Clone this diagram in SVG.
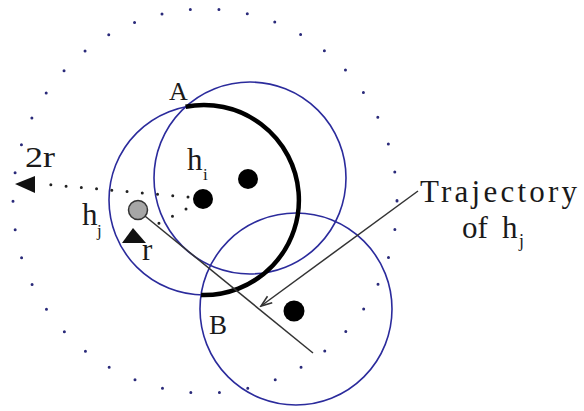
<svg xmlns="http://www.w3.org/2000/svg" width="584" height="411" viewBox="0 0 584 411">
<style>
.t{font-family:"Liberation Serif","Times New Roman",serif;fill:#1a1a1a}
.range{fill:none;stroke:#2b2b9c;stroke-width:1.6}
.dot{fill:#000}
.dotted{fill:none;stroke:#222;stroke-width:3;stroke-linecap:round;stroke-dasharray:0 15.3}
</style>
<defs>
<marker id="open" markerWidth="14" markerHeight="12" refX="12" refY="5" orient="auto" markerUnits="userSpaceOnUse">
<path d="M1,1 L12,5 L1,9" fill="none" stroke="#333" stroke-width="1.6"/>
</marker>
</defs>
<rect width="584" height="411" fill="#fff"/>

<g id="range-2r">
<circle cx="205" cy="201" r="192" fill="none" stroke="#2a2a7a" stroke-width="3" stroke-linecap="round" stroke-dasharray="0 28.7"/>
</g>

<g id="circle-hi">
<circle class="range" cx="204" cy="200" r="95"/>
</g>
<g id="circle-2">
<circle class="range" cx="250" cy="178" r="96"/>
</g>
<g id="circle-3">
<circle class="range" cx="296" cy="309" r="96"/>
</g>

<g id="connectors">
<path id="arc-AB" d="M185.6,106.8 A95,95 0 1 1 201.05,294.98" fill="none" stroke="#000" stroke-width="4.5"/>
<line x1="140" y1="212" x2="313" y2="353" stroke="#333" stroke-width="1.5"/>
<line x1="418" y1="191" x2="261" y2="306" stroke="#333" stroke-width="1.5" marker-end="url(#open)"/>
<line class="dotted" x1="188" y1="197" x2="42" y2="184"/>
<polygon points="15,184 35,176 35,193" fill="#111"/>
<line class="dotted" x1="186" y1="209" x2="150" y2="228"/>
<polygon points="133,228 122,243 146,243" fill="#111"/>
</g>

<g id="node-hi">
<circle class="dot" cx="203" cy="199" r="10"/>
<text class="t" x="187" y="170" font-size="31">h</text>
<text class="t" x="203" y="180" font-size="17">i</text>
</g>
<g id="node-2">
<circle class="dot" cx="248" cy="179" r="10"/>
</g>
<g id="node-3">
<circle class="dot" cx="294" cy="311" r="10.5"/>
</g>
<g id="node-hj">
<circle cx="138" cy="210" r="9.5" fill="#a6a6a6" stroke="#333" stroke-width="1.5"/>
<text class="t" x="82" y="225" font-size="31">h</text>
<text class="t" x="97" y="236" font-size="17">j</text>
</g>

<g id="labels">
<text class="t" x="169" y="100" font-size="26">A</text>
<text class="t" x="209" y="334" font-size="27">B</text>
<text class="t" x="25" y="167" font-size="30" textLength="30" lengthAdjust="spacingAndGlyphs">2r</text>
<text class="t" x="142" y="260" font-size="31">r</text>
<text class="t" x="420" y="202" font-size="31" textLength="157" lengthAdjust="spacing">Trajectory</text>
<text class="t" x="462" y="238" font-size="31">of <tspan x="502">h</tspan></text>
<text class="t" x="519" y="247" font-size="18">j</text>
</g>
</svg>
